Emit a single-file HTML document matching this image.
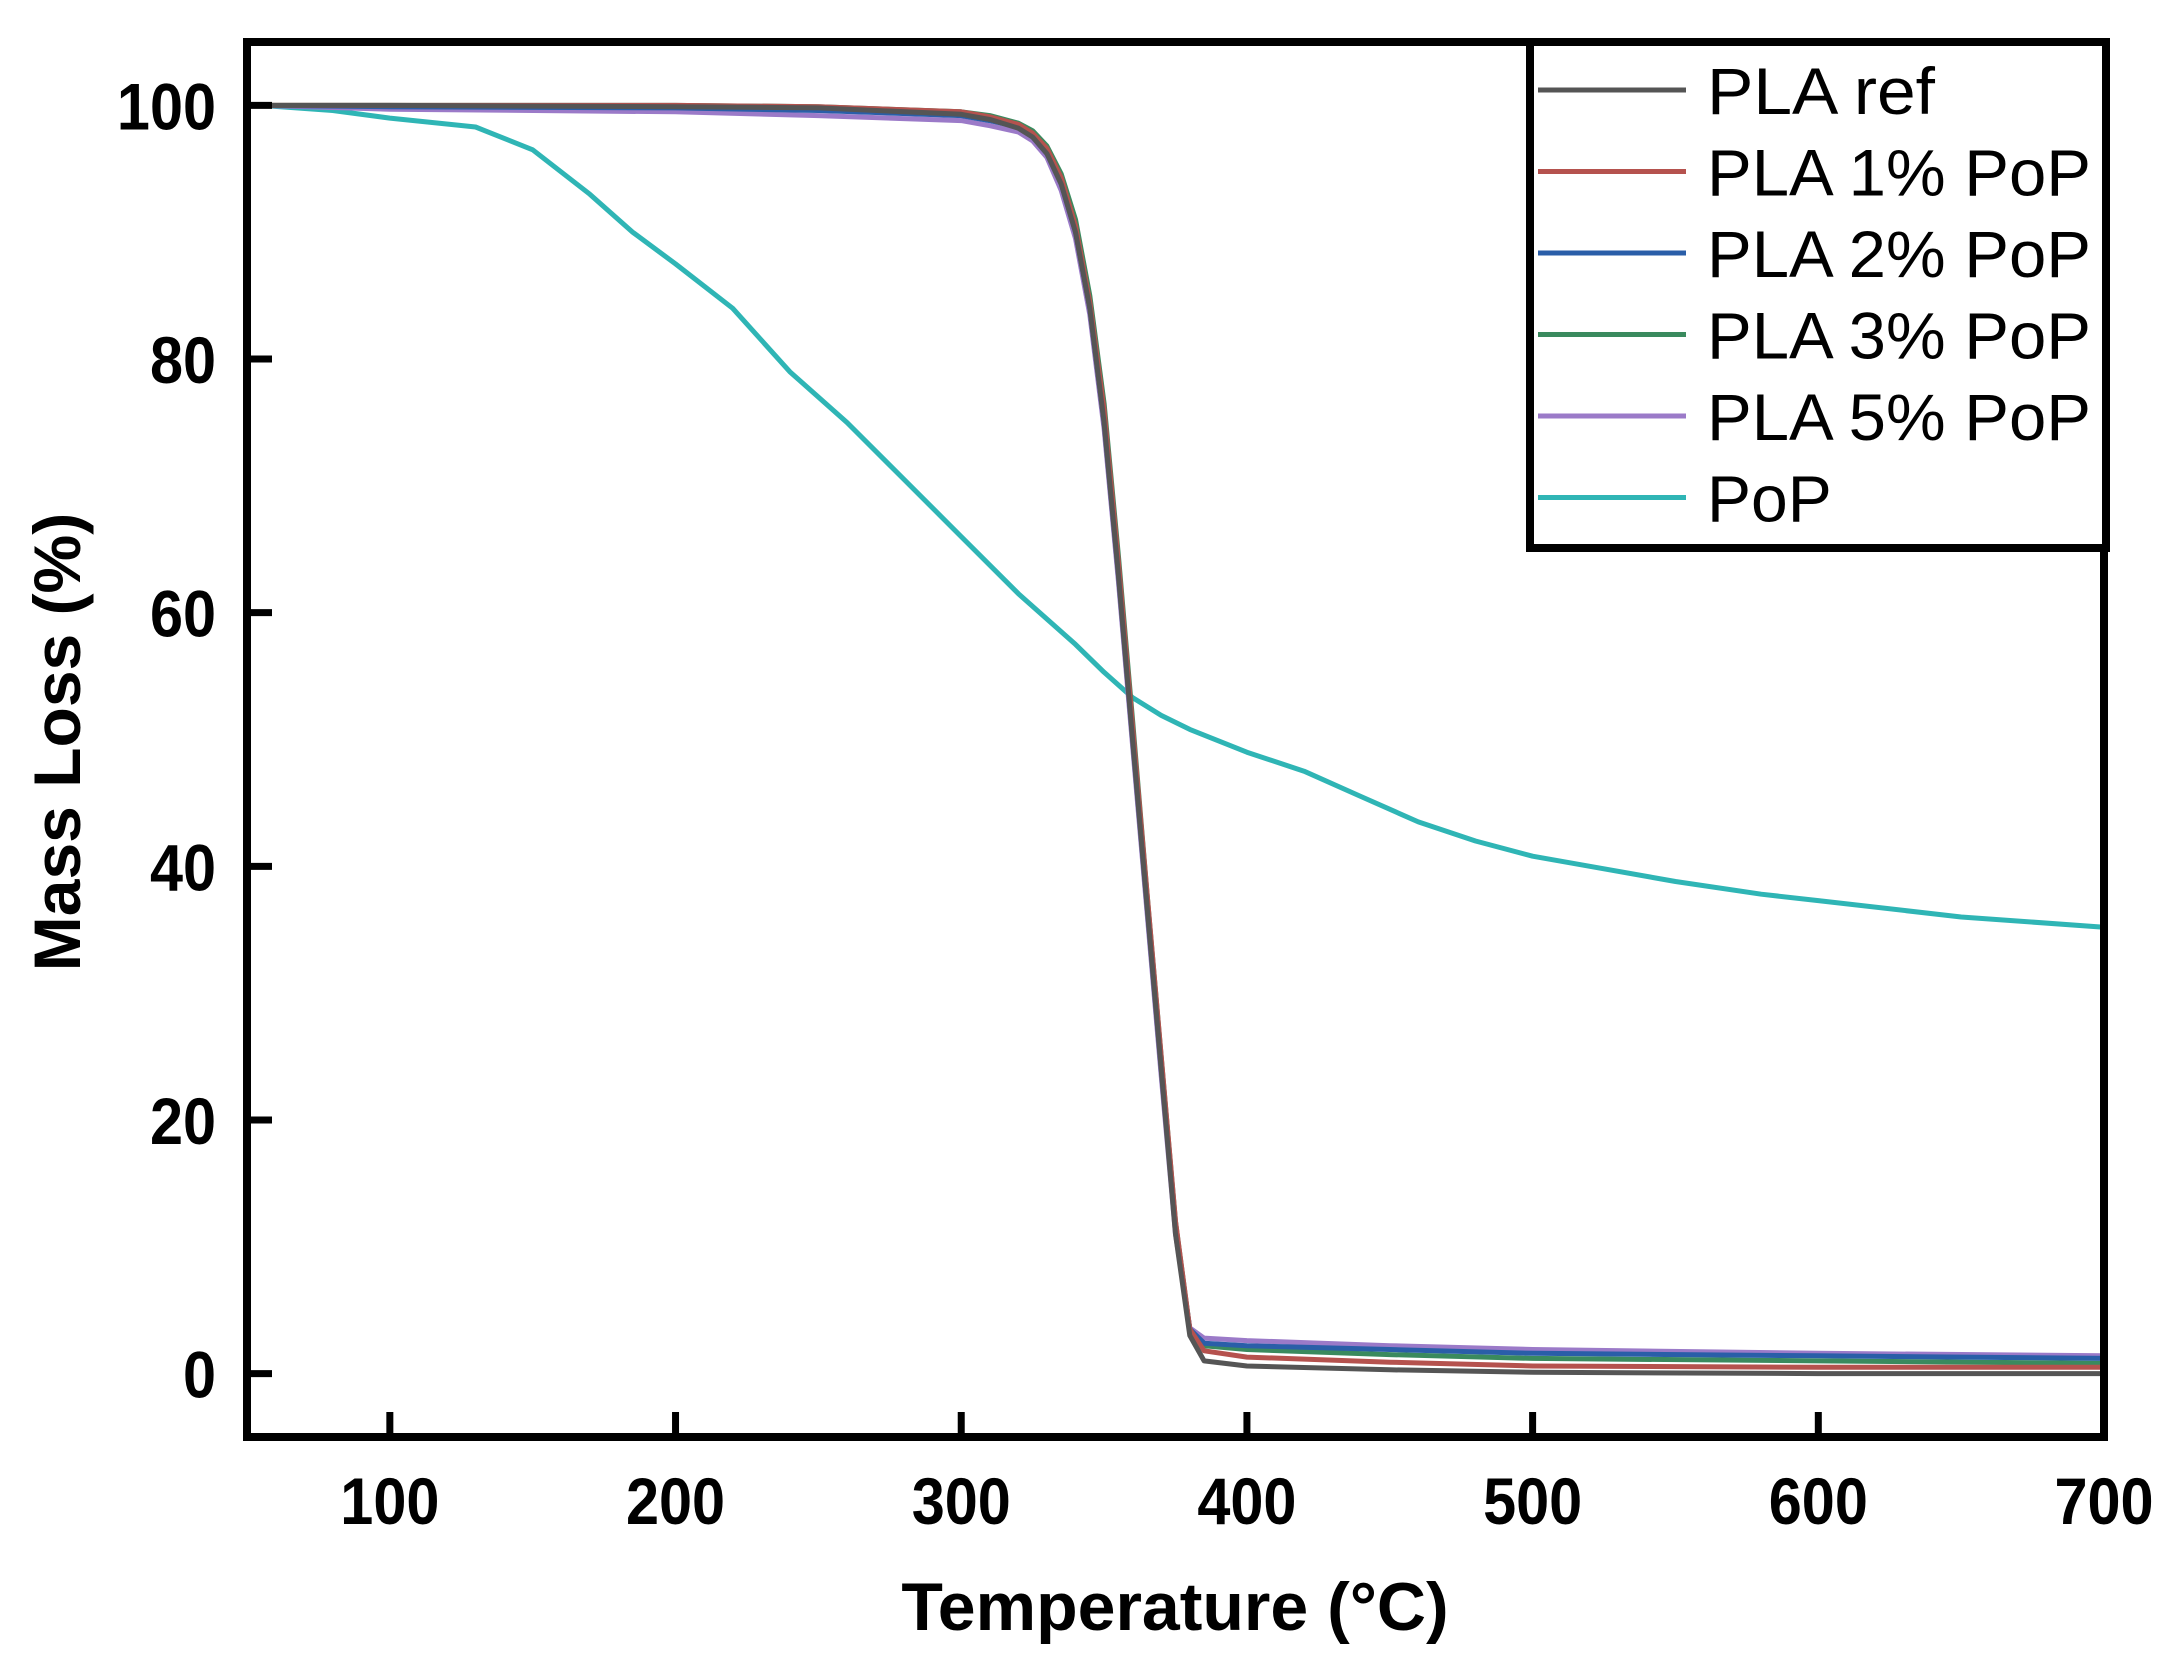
<!DOCTYPE html>
<html><head><meta charset="utf-8"><style>
html,body{margin:0;padding:0;background:#fff;}
svg{display:block;font-family:"Liberation Sans",Arial,sans-serif;}
</style></head><body>
<svg id="chart" width="2175" height="1680" viewBox="0 0 2175 1680" xmlns="http://www.w3.org/2000/svg">
<rect x="0" y="0" width="2175" height="1680" fill="#fff"/>
<g id="series"></g>
<g id="axes"></g>
<text x="1175" y="1630" font-size="68" font-weight="bold" text-anchor="middle">Temperature (°C)</text>
<text transform="translate(80,742) rotate(-90)" font-size="66" font-weight="bold" text-anchor="middle">Mass Loss (%)</text>
<g id="legend"></g>
</svg>
<script>
const xTicks=[100,200,300,400,500,600,700];
const yTicks=[0,20,40,60,80,100];
const seriesNames=["PLA ref","PLA 1% PoP","PLA 2% PoP","PLA 3% PoP","PLA 5% PoP","PoP"];
const seriesColors=["#555555","#b5524e","#2a5ea8","#3a8a5e","#9b7ac8","#2fb5b5"];
const plaTemps=[55,100,200,250,300,310,320,325,330,335,340,345,350,355,360,365,370,375,380,385,400,450,500,600,700];
const plaRef=[100,100,99.9,99.8,99.3,98.9,98.2,97.5,96.2,93.8,90,84,75,63,50,37,24,11,3,1,0.6,0.3,0.1,0,0];
const pla1=[100,100,100,99.9,99.5,99.1,98.5,97.8,96.6,94.3,90.5,84.5,76,64,51,38,25,12,3.5,1.8,1.3,0.9,0.6,0.5,0.5];
const pla2=[100,99.9,99.8,99.6,99.2,98.8,98.3,97.5,96.2,93.8,90,84,75,63,50,37,24,11.5,3.5,2.4,2.2,1.9,1.6,1.4,1.2];
const pla3=[100,100,100,99.9,99.5,99.2,98.6,98,96.8,94.6,91,85,76.5,64.5,51.5,38,25,12,3.5,2.2,1.9,1.5,1.2,1,0.8];
const pla5=[100,99.7,99.5,99.2,98.8,98.4,97.9,97.2,95.9,93.3,89.5,83.5,74.5,62.5,49.5,36.5,23.5,11,3.6,2.8,2.6,2.2,1.9,1.6,1.4];
const popTemps=[55,80,100,130,150,170,185,200,220,240,260,280,300,320,340,350,360,370,380,400,420,440,460,480,500,520,550,580,600,650,700];
const popVals=[100,99.6,99,98.3,96.5,93,90,87.5,84,79,75,70.5,66,61.5,57.5,55.3,53.3,51.9,50.8,49,47.5,45.5,43.5,42,40.8,40,38.8,37.8,37.3,36,35.2];

const L=247,R=2104,T=42,B=1437,X0=50,X1=700,Y0=-5,Y1=105;
function sx(v){return L+(v-X0)/(X1-X0)*(R-L);}
function sy(v){return B-(v-Y0)/(Y1-Y0)*(B-T);}
const NS="http://www.w3.org/2000/svg";
function mk(tag,attrs,parent){const e=document.createElementNS(NS,tag);for(const k in attrs)e.setAttribute(k,attrs[k]);parent.appendChild(e);return e;}
const sg=document.getElementById('series');
const seriesData=[[plaTemps,plaRef],[plaTemps,pla1],[plaTemps,pla2],[plaTemps,pla3],[plaTemps,pla5],[popTemps,popVals]];
const order=[5,4,3,2,1,0];
order.forEach(i=>{
  const [xs,ys]=seriesData[i];
  const d=xs.map((x,j)=>(j?'L':'M')+sx(x).toFixed(1)+','+sy(ys[j]).toFixed(1)).join(' ');
  const p=mk('path',{d:d,fill:'none',stroke:seriesColors[i],'stroke-width':5,'stroke-linejoin':'round'},sg);
  
  
});
const ag=document.getElementById('axes');
const frame=mk('rect',{x:L,y:T,width:R-L,height:B-T,fill:'none',stroke:'#000','stroke-width':8},ag);


xTicks.forEach(v=>{
  const t=mk('line',{x1:sx(v),x2:sx(v),y1:B,y2:B-25,stroke:'#000','stroke-width':7},ag);
  
  
  const tx=mk('text',{transform:'translate('+sx(v)+',1524) scale(0.9,1)','font-size':66,'font-weight':'bold','text-anchor':'middle'},ag);
  tx.textContent=v;
  
  
});
yTicks.forEach(v=>{
  const t=mk('line',{x1:L,x2:L+25,y1:sy(v),y2:sy(v),stroke:'#000','stroke-width':7},ag);
  
  
  const tx=mk('text',{transform:'translate(216,'+(sy(v)+24)+') scale(0.9,1)','font-size':66,'font-weight':'bold','text-anchor':'end'},ag);
  tx.textContent=v;
  
  
});
const lg=document.getElementById('legend');
const box=mk('rect',{x:1530,y:42,width:576,height:506,fill:'#fff',stroke:'#000','stroke-width':8},lg);


seriesNames.forEach((n,i)=>{
  const y=90+i*81.5;
  const ln=mk('line',{x1:1538,x2:1686,y1:y,y2:y,stroke:seriesColors[i],'stroke-width':5},lg);
  
  
  const attrs={x:1707,y:y+24,'font-size':66};
  if(n.length>4){attrs.textLength=(n.length===7?228:384);attrs.lengthAdjust='spacingAndGlyphs';}
  const tx=mk('text',attrs,lg);
  tx.textContent=n;
  
  
});
</script>
</body></html>
